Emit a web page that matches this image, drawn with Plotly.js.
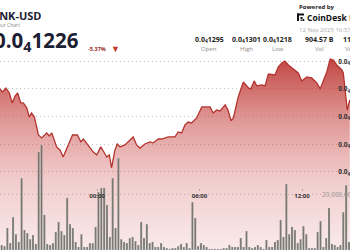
<!DOCTYPE html>
<html><head><meta charset="utf-8">
<script src="https://cdn.plot.ly/plotly-3.0.1.min.js"></script>
<style>html,body{margin:0;padding:0;overflow:hidden;width:350px;height:250px;background:#fff}#chart{width:400px;height:250px}</style>
</head><body><div id="chart"></div>
<script>
// ---- data ----
const PRICE_UNIT = 1e-8; // prices below are in units of 0.00000001 USD
const priceTimes = ["18:19","18:28","18:40","18:52","19:02","19:12","19:21","19:32","19:41","19:53","20:02","20:10","20:20","20:34","20:46","20:57","21:03","21:12","21:21","21:38","21:50","22:01","22:19","22:34","22:51","23:03","23:12","23:29","23:47","23:59","00:13","00:24","00:34","00:43","00:51","01:03","01:11","01:21","01:38","01:56","02:07","02:19","02:31","02:48","03:06","03:17","03:35","03:47","04:10","04:34","04:45","04:57","05:09","05:20","05:32","05:50","06:08","06:25","06:37","06:48","07:00","07:12","07:30","07:40","07:51","07:59","08:16","08:34","08:52","09:00","09:12","09:21","09:39","09:50","10:02","10:25","10:37","10:49","11:00","11:12","11:29","11:47","11:59","12:17","12:34","12:52","13:04","13:15","13:27","13:39","13:50","14:02","14:20","14:25","14:31","14:39","14:48"];
const priceValues = [1280.0,1277.8,1280.7,1277.1,1269.9,1274.9,1277.1,1269.9,1269.9,1266.3,1259.7,1262.6,1259.7,1246.7,1244.6,1246.7,1248.2,1246.0,1248.2,1238.1,1235.9,1230.8,1239.5,1246.7,1246.7,1241.7,1243.8,1239.5,1234.4,1232.3,1238.1,1234.4,1230.8,1232.3,1222.9,1235.9,1240.2,1238.1,1239.5,1243.1,1245.3,1239.5,1237.3,1240.2,1241.7,1241.0,1243.8,1243.8,1245.3,1245.3,1248.9,1248.2,1254.0,1256.1,1255.4,1259.0,1267.0,1267.0,1267.0,1262.6,1264.8,1264.1,1268.4,1264.8,1256.9,1259.0,1274.2,1285.0,1280.7,1280.0,1285.8,1282.2,1282.9,1282.2,1290.8,1290.1,1295.9,1298.8,1300.2,1297.3,1294.4,1291.6,1285.8,1288.7,1288.0,1284.3,1280.0,1286.5,1292.3,1301.5,1300.8,1297.3,1293.7,1291.6,1281.4,1264.8,1272.0];
const volumeStart = Date.UTC(2025, 10, 11, 18, 15);
const volumeStepMinutes = 10;
const volumeBillions = [1.8,1.8,1.4,7.9,2.5,11.8,5.7,2.9,25.8,7.2,6.1,3.9,5.4,2.2,35.2,37.7,12.6,2.2,1.8,2.5,6.5,10.1,6.8,5.4,18.7,9.3,7.9,2.9,1.1,5.7,1.1,1.1,2.5,2.5,8.3,20.8,22.3,22.3,16.2,4.7,25.8,7.9,33.0,3.9,2.9,2.5,4.3,4.7,3.2,1.8,10.1,4.3,9.3,2.5,2.9,1.1,1.1,2.5,1.1,0.7,0.4,0.7,
0.7,1.4,2.2,1.1,2.5,0.7,17.2,11.5,1.4,2.5,1.8,1.1,0.4,0.4,0.4,0.4,0.4,0.7,0.7,1.8,1.1,1.1,1.1,4.3,1.1,6.8,1.1,0.7,1.1,1.8,1.1,0.4,3.6,1.1,1.1,2.9,3.6,10.8,4.7,23.7,5.7,8.3,7.2,2.5,3.9,8.6,5.7,0.7,0.7,0.7,6.5,10.4,1.1,4.3,15.1,2.2,1.8,1.1,1.8,13.6,23.3,2.9];
const priceTickValues = [1220,1240,1260,1280,1300];
const priceTickText = ["0.0<sub>4</sub>1220","0.0<sub>4</sub>1240","0.0<sub>4</sub>1260","0.0<sub>4</sub>1280","0.0<sub>4</sub>1300"];
const volumeTickValues = [20e9];
const timeTickValues = ["2025-11-11 18:00","2025-11-12 00:00","2025-11-12 06:00","2025-11-12 12:00"];
const statValues = ["0.0<sub>4</sub>1295","0.0<sub>4</sub>1301","0.0<sub>4</sub>1218","904.57 B","11.31 M"];
const statLabels = ["Open","High","Low","Vol","Vol USD"];

// ---- helpers ----
const pad = n => String(n).padStart(2, "0");
const fmt = ms => { const d = new Date(ms); return d.getUTCFullYear()+"-"+pad(d.getUTCMonth()+1)+"-"+pad(d.getUTCDate())+" "+pad(d.getUTCHours())+":"+pad(d.getUTCMinutes()); };
let day = 11, prevH = -1;
const priceX = priceTimes.map(t => { const h = +t.slice(0,2); if (prevH >= 18 && h < 18) day = 12; prevH = h; return "2025-11-" + day + " " + t; });
const priceY = priceValues.map(v => v * PRICE_UNIT);
const volX = volumeBillions.map((_, i) => fmt(volumeStart + i * volumeStepMinutes * 60000));
const volY = volumeBillions.map(v => v * 1e9);

const H = 250, PLOT_R = 378;
const px = v => v / PLOT_R;
const py = v => (H - v) / H;
const F = "Open Sans, Noto Sans, sans-serif";
const ann = (text, x, y, xa, size, color, weight) => ({text, x: px(x), y: py(y), xref: "paper", yref: "paper", xanchor: xa, yanchor: "middle", showarrow: false, font: {family: F, size, color, weight: weight || 400}});

const priceBottom = 1163.6, priceTop = 1303.8;

const annotations = [
  ann("BONK-USD", 43, 15, "right", 11, "#1c2033", 700),
  ann("24 Hour Chart", 22, 25, "right", 5, "#8a8a8a"),
  ann("0.0<sub>4</sub>1226", 80.5, 40.5, "right", 20.5, "#1c2033", 700),
  ann("-5.37%", 86, 49, "left", 5.5, "#9b2a2a", 700),
  ann("▼", 108.5, 49, "left", 9, "#c0392b"),
  ann("Powered by", 296.5, 7, "left", 6, "#222", 700),
  ann("CoinDesk Data", 305, 17.5, "left", 8.5, "#111", 700),
  ann("12 Nov 2025 16:37", 296.5, 29.5, "left", 6, "#aaaaaa")
];
const statCenters = [209, 246, 277.5, 319, 356];
statValues.forEach((v, i) => {
  annotations.push(ann(v, statCenters[i], 39.5, "center", 7, "#222", 700));
  annotations.push(ann(statLabels[i], statCenters[i], 49, "center", 6, "#8a8a8a"));
});

const shapes = [
  [297, 13.5, 299, 21], [297, 13.5, 304, 15.5], [300.5, 17, 302.5, 19], [302.5, 19, 304.3, 21], [300.5, 19.5, 301.8, 21]
].map(r => ({type: "rect", xref: "paper", yref: "paper", x0: px(r[0]), x1: px(r[2]), y0: py(r[3]), y1: py(r[1]), fillcolor: "#111", line: {width: 0}}));

const traces = [
  {type: "scatter", mode: "lines", x: priceX, y: priceY, yaxis: "y",
   line: {color: "#b3332e", width: 1.3, shape: "linear"},
   fill: "tozeroy",
   fillgradient: {type: "vertical", start: priceBottom * PRICE_UNIT, stop: priceTop * PRICE_UNIT,
     colorscale: [[0, "rgba(215,95,95,0.13)"], [0.35, "rgba(210,90,90,0.3)"], [0.65, "rgba(200,75,72,0.55)"], [1, "rgba(185,45,40,0.9)"]]},
   hoverinfo: "skip"},
  {type: "bar", x: volX, y: volY, yaxis: "y2", width: volumeStepMinutes * 60000 * 0.72,
   marker: {color: "rgba(105,105,99,0.9)", line: {color: "rgba(255,255,255,0.5)", width: 0.4}}, hoverinfo: "skip"}
];

const grid = {gridcolor: "#c4c4c4", griddash: "1px,3px", gridwidth: 1, zeroline: false, showline: false, ticks: "", fixedrange: true};
const layout = {
  width: 400, height: 250, margin: {l: 0, r: 22, t: 0, b: 0},
  paper_bgcolor: "#fff", plot_bgcolor: "rgba(0,0,0,0)", showlegend: false,
  xaxis: {type: "date", range: ["2025-11-11 18:19:07", "2025-11-12 16:26:59"], anchor: "free", position: py(187.5),
    tickvals: timeTickValues, tickformat: "%H:%M", ticks: "outside", ticklen: 2, tickcolor: "#aaa",
    tickfont: {family: F, size: 6, color: "#333", weight: 700}, showgrid: false, showline: false, zeroline: false, fixedrange: true},
  yaxis: Object.assign({domain: [0, py(56)], range: [priceBottom * PRICE_UNIT, priceTop * PRICE_UNIT], side: "right",
    ticklabelposition: "inside", ticklabelstandoff: 10, tickvals: priceTickValues.map(v => v * PRICE_UNIT), ticktext: priceTickText,
    tickfont: {family: F, size: 6.5, color: "#333", weight: 700}}, grid),
  yaxis2: Object.assign({overlaying: "y", side: "right", range: [0, 69.66e9], tickvals: volumeTickValues, tickformat: ",",
    ticklabelposition: "inside", ticklabelstandoff: 7, tickfont: {family: F, size: 6.5, color: "#999"}}, grid),
  annotations, shapes
};
Plotly.newPlot("chart", traces, layout, {staticPlot: true, displayModeBar: false});
</script></body></html>
